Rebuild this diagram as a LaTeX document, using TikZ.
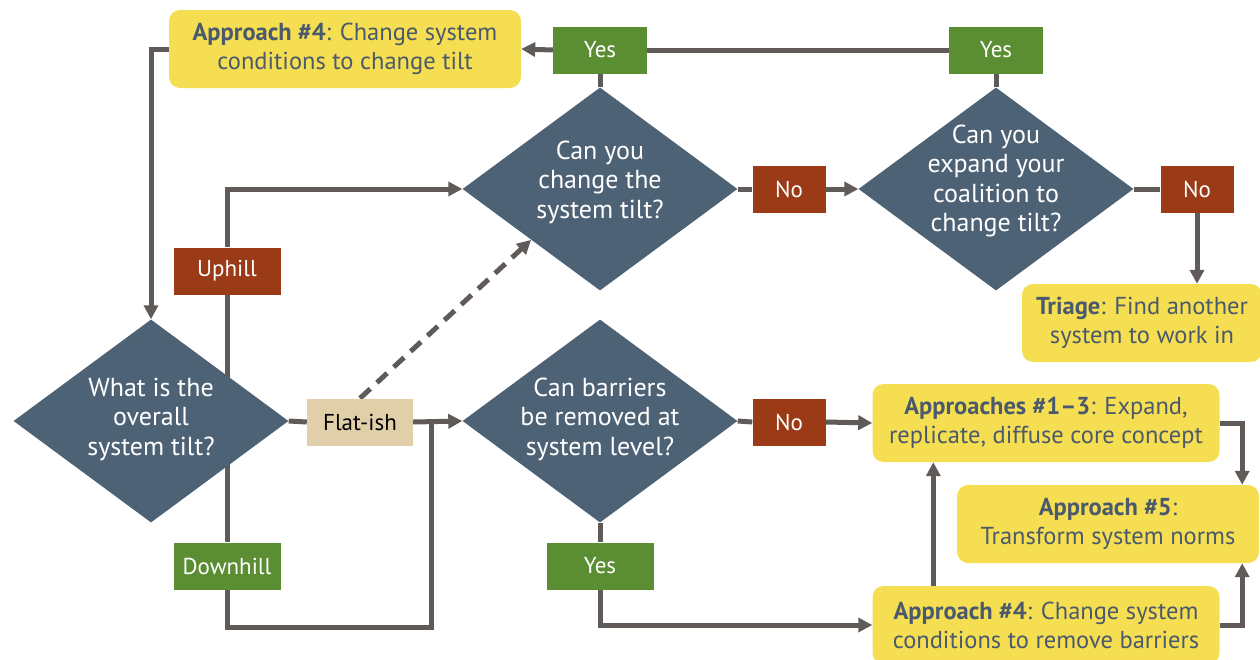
\documentclass[tikz,border=0pt]{standalone}
\usepackage{fontspec}
\setmainfont{PT Sans}
\usetikzlibrary{shapes.geometric,arrows.meta}
\definecolor{slate}{HTML}{4E6276}
\definecolor{grn}{HTML}{5B8D32}
\definecolor{rust}{HTML}{9B3A17}
\definecolor{ylw}{HTML}{F6DE52}
\definecolor{beige}{HTML}{E1CFAA}
\definecolor{ln}{HTML}{605B59}
\definecolor{ytext}{HTML}{4A5A6C}
\newcommand\fsd{\fontsize{26}{29.5}\selectfont}
\newcommand\fsy{\fontsize{24.5}{29}\selectfont}
\newcommand\fsl{\fontsize{23}{29}\selectfont}
\pgfdeclarelayer{bg}
\pgfsetlayers{bg,main}
\begin{document}
\begin{tikzpicture}[x=1pt,y=-1pt,
  dec/.style={diamond, fill=slate, draw=none, inner sep=0pt, minimum width=275pt, minimum height=203pt},
  dtext/.style={text=white, align=center, font=\fsd, inner sep=0pt},
  lab/.style={rectangle, fill=#1, text=white, inner sep=0pt, minimum height=47pt, font=\fsl},
  ybox/.style={rectangle, rounded corners=11pt, fill=ylw, text=ytext, align=center, inner sep=0pt, minimum height=78pt, font=\fsy},
  conn/.style={draw=ln, line width=5pt},
  arr/.style={conn, -{Triangle[length=14pt,width=14pt]}},
]
\useasboundingbox (0,0) rectangle (1260,659);

% decisions
\node[dec] (d1) at (151,421) {};
\node[dtext] (t1) at (151,419) {What is the\\overall\\system tilt?};
\node[dec] (d2) at (600,189) {};
\node[dtext] (t2) at (600,182) {Can you\\change the\\system tilt?};
\node[dec] (d3) at (996,189) {};
\node[dtext] (t3) at (996,181) {Can you\\expand your\\coalition to\\change tilt?};
\node[dec] (d4) at (600,421) {};
\node[dtext] (t4) at (600,419) {Can barriers\\be removed at\\system level?};

% labels
\node[lab=grn, minimum width=94pt] (yes1) at (600,50) {Yes};
\node[lab=grn, minimum width=94pt] (yes2) at (996,50) {Yes};
\node[lab=rust, minimum width=73pt] (no1) at (789,189) {No};
\node[lab=rust, minimum width=73pt] (no2) at (1197,189) {No};
\node[lab=rust, minimum width=107pt] (up) at (227,271) {Uphill};
\node[lab=beige, minimum width=106pt, text=black] (flat) at (360,422) {Flat-ish};
\node[lab=grn, minimum width=107pt] (down) at (227,566) {Downhill};
\node[lab=grn, minimum width=107pt] (yes3) at (600,566) {Yes};
\node[lab=rust, minimum width=73pt] (no3) at (789,422) {No};

% yellow boxes
\node[ybox, minimum width=352pt] (a4t) at (345,49) {\textbf{Approach \#4}: Change system\\conditions to change tilt};
\node[ybox, minimum width=240pt] (tri) at (1142,323) {\textbf{Triage}: Find another\\system to work in};
\node[ybox, minimum width=347pt] (a13) at (1046,423) {\textbf{Approaches \#1–3}: Expand,\\replicate, diffuse core concept};
\node[ybox, minimum width=302pt] (a5) at (1108,524) {\textbf{Approach \#5}:\\Transform system norms};
\node[ybox, minimum width=347pt] (a4b) at (1046,625) {\textbf{Approach \#4}: Change system\\conditions to remove barriers};

\coordinate (dl) at (431,627);

\begin{pgfonlayer}{bg}
\draw[conn] (yes2.west) -- (yes1.east);
\draw[arr] (yes1.west) -- (a4t.east);
\draw[conn] (d2.north) -- (yes1.south);
\draw[conn] (d3.north) -- (yes2.south);
\draw[arr] (a4t.west) -| (d1.north);
\draw[arr] (up.north) |- (d2.west);
\draw[conn] (up.south) -- (down.north);
\draw[conn] (d1.east) -- (flat.west);
\draw[arr] (flat.east) -- (d4.west);
\draw[conn] (down.south) |- (dl) -- (dl |- d4.west);
\draw[arr, dash pattern=on 14pt off 9pt] (flat.north) -- (d2.south west);
\draw[conn] (d2.east) -- (no1.west);
\draw[arr] (no1.east) -- (d3.west);
\draw[conn] (d3.east) -- (no2.west);
\draw[arr] (no2.south) -- (no2.south |- tri.north);
\draw[conn] (d4.east) -- (no3.west);
\draw[arr] (no3.east) -- (a13.west);
\draw[conn] (d4.south) -- (yes3.north);
\draw[arr] (yes3.south) |- (a4b.west);
\draw[arr] ([xshift=61pt]a4b.north west) -- ([xshift=61pt]a13.south west);
\draw[arr] (a13.east) -| ([xshift=-17pt]a5.north east);
\draw[arr] (a4b.east) -| ([xshift=-17pt]a5.south east);
\end{pgfonlayer}
\end{tikzpicture}
\end{document}
